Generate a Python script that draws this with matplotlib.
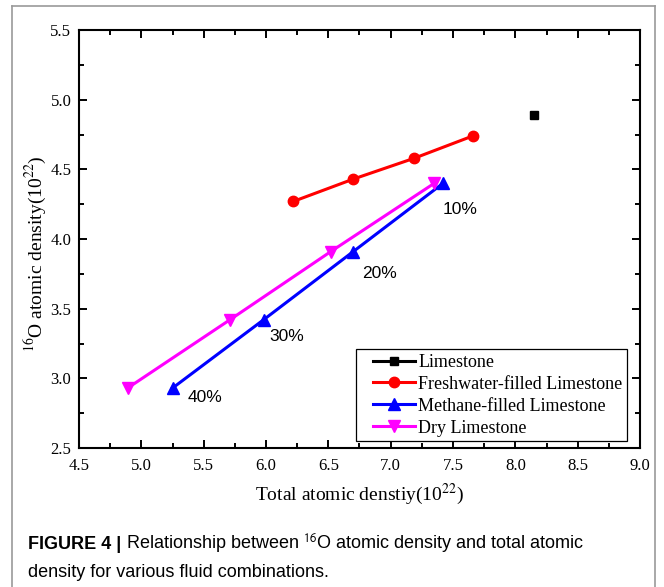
import matplotlib.pyplot as plt
from matplotlib.lines import Line2D
from matplotlib.legend_handler import HandlerLine2D
from matplotlib.ticker import MultipleLocator

# total atomic density vs 16O atomic density (both in 1e22)
limestone_x = [8.15]
limestone_y = [4.89]

fresh_x = [6.22, 6.70, 7.19, 7.66]
fresh_y = [4.27, 4.43, 4.58, 4.74]

methane_x = [5.25, 5.98, 6.70, 7.42]
methane_y = [2.93, 3.42, 3.91, 4.40]

dry_x = [4.89, 5.71, 6.52, 7.35]
dry_y = [2.93, 3.42, 3.91, 4.40]

porosity_labels = ["40%", "30%", "20%", "10%"]

serif = "Liberation Serif"
sans = "Liberation Sans"

fig = plt.figure(figsize=(6.64, 5.87), dpi=100)
ax = fig.add_axes([79 / 664, 1 - 448 / 587, 561 / 664, 418 / 587])

ax.plot(limestone_x, limestone_y, color="black", marker="s", ms=6, lw=2.2,
        label="Limestone")
ax.plot(fresh_x, fresh_y, color="red", marker="o", ms=7.5, lw=2.2,
        label="Freshwater-filled Limestone")
ax.plot(methane_x, methane_y, color="blue", marker="^", ms=8.5, lw=2.2,
        label="Methane-filled Limestone")
ax.plot(dry_x, dry_y, color="magenta", marker="v", ms=8.5, lw=2.2,
        label="Dry Limestone")

# porosity labels next to the methane points
label_dx = [0.26, 0.19, 0.21, 0.14]
label_dy = [-0.065, -0.12, -0.16, -0.185]
for xv, yv, txt, dx, dy in zip(methane_x, methane_y, porosity_labels, label_dx, label_dy):
    ax.text(xv + dx, yv + dy, txt, fontsize=12.5, family=sans,
            ha="center", va="center")

ax.set_xlim(4.5, 9.0)
ax.set_ylim(2.5, 5.5)
ax.xaxis.set_major_locator(MultipleLocator(0.5))
ax.xaxis.set_minor_locator(MultipleLocator(0.25))
ax.yaxis.set_major_locator(MultipleLocator(0.5))
ax.yaxis.set_minor_locator(MultipleLocator(0.25))
ax.tick_params(which="both", direction="in", top=True, right=True,
               labeltop=False, labelright=False, width=1.4)
ax.tick_params(which="major", length=6)
ax.tick_params(which="minor", length=3.5)
for lbl in ax.get_xticklabels() + ax.get_yticklabels():
    lbl.set_family(serif)
    lbl.set_fontsize(12)
ax.tick_params(axis="x", pad=7.5)
ax.tick_params(axis="y", pad=5.5)
for sp in ax.spines.values():
    sp.set_linewidth(1.5)

ax.set_xlabel(r"Total atomic denstiy(10$^{22}$)", family=serif, fontsize=14,
              math_fontfamily="stix", labelpad=5)
ax.set_ylabel(r"$^{16}$O atomic density(10$^{22}$)", family=serif, fontsize=14,
              math_fontfamily="stix")
ax.yaxis.set_label_coords(-0.056, 0.466)

handles = [
    Line2D([], [], color="black", marker="s", ms=6, lw=2.2),
    Line2D([], [], color="red", marker="o", ms=7.5, lw=2.2),
    Line2D([], [], color="blue", marker="^", ms=8, lw=2.2),
    Line2D([], [], color="magenta", marker="v", ms=8, lw=2.2),
]
names = ["Limestone", "Freshwater-filled Limestone",
         "Methane-filled Limestone", "Dry Limestone"]
leg = ax.legend(handles, names, loc="lower right",
                bbox_to_anchor=(0.9768, 0.0167), borderaxespad=0,
                prop={"family": serif, "size": 13}, frameon=True,
                fancybox=False, edgecolor="black", framealpha=1,
                handlelength=3.0, handletextpad=0.2, labelspacing=0.27,
                borderpad=0.25,
                handler_map={Line2D: HandlerLine2D(xpad=0.7)})
leg.get_frame().set_linewidth(0.9)

# panel border
border = dict(color="#9a9a9a", lw=1.2, transform=fig.transFigure)
fig.add_artist(Line2D([12 / 664, 12 / 664], [0, 1 - 6 / 587], **border))
fig.add_artist(Line2D([12 / 664, 655 / 664], [1 - 6 / 587, 1 - 6 / 587], **border))
fig.add_artist(Line2D([655 / 664, 655 / 664], [0, 1 - 6 / 587], **border))

# caption, bold figure number followed by the plain text on the same baseline
cap_y = 1 - 549 / 587
cap = fig.text(28 / 664, cap_y, "FIGURE 4 |", family=sans,
               fontsize=13, weight="bold", va="baseline")
fig.canvas.draw()
x_end = fig.transFigure.inverted().transform(
    (cap.get_window_extent().x1, 0))[0]
fig.text(x_end, cap_y, r" Relationship between $^{16}$O atomic density and total atomic",
         family=sans, fontsize=13, math_fontfamily="stixsans", va="baseline")
fig.text(28 / 664, 1 - 577 / 587, "density for various fluid combinations.",
         family=sans, fontsize=13, va="baseline")

fig.savefig("out.png", dpi=100)
